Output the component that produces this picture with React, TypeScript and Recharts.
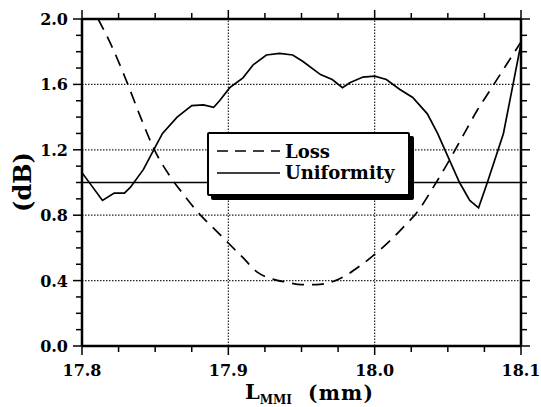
import React from 'react';
import { LineChart, Line, XAxis, YAxis, ReferenceLine } from 'recharts';

// length axis (mm)
const xTicks = [17.8, 17.825, 17.85, 17.875, 17.9, 17.925, 17.95, 17.975, 18.0, 18.025, 18.05, 18.075, 18.1];
const xMajor = [17.8, 17.9, 18.0, 18.1];
const yTicks = [0, 0.1, 0.2, 0.3, 0.4, 0.5, 0.6, 0.7, 0.8, 0.9, 1.0, 1.1, 1.2, 1.3, 1.4, 1.5, 1.6, 1.7, 1.8, 1.9, 2.0];
const yMajor = [0, 0.4, 0.8, 1.2, 1.6, 2.0];
const xGrid = [17.9, 18.0];
const yGrid = [0.4, 0.8, 1.2, 1.6];

const lossLength = [17.811, 17.82, 17.83, 17.84, 17.85, 17.86, 17.87, 17.88, 17.89, 17.9, 17.91, 17.92, 17.93, 17.94, 17.95, 17.96, 17.97, 17.98, 17.99, 18.0, 18.01, 18.02, 18.03, 18.04, 18.05, 18.06, 18.07, 18.08, 18.09, 18.1];
const lossDb = [2.0, 1.84, 1.63, 1.4, 1.19, 1.04, 0.92, 0.81, 0.72, 0.63, 0.54, 0.45, 0.41, 0.39, 0.375, 0.375, 0.39, 0.43, 0.49, 0.56, 0.64, 0.73, 0.83, 0.97, 1.12, 1.28, 1.44, 1.58, 1.72, 1.86];

const uniLength = [17.8, 17.814, 17.822, 17.829, 17.833, 17.842, 17.849, 17.855, 17.865, 17.875, 17.883, 17.89, 17.894, 17.901, 17.91, 17.917, 17.926, 17.935, 17.944, 17.951, 17.963, 17.971, 17.978, 17.983, 17.992, 18.0, 18.008, 18.017, 18.026, 18.036, 18.043, 18.049, 18.058, 18.065, 18.071, 18.077, 18.088, 18.1];
const uniDb = [1.06, 0.89, 0.935, 0.935, 0.97, 1.08, 1.2, 1.3, 1.4, 1.47, 1.475, 1.46, 1.5, 1.58, 1.64, 1.72, 1.78, 1.79, 1.78, 1.74, 1.66, 1.63, 1.58, 1.61, 1.645, 1.65, 1.63, 1.57, 1.52, 1.42, 1.3, 1.18, 1.0, 0.89, 0.845, 1.0, 1.3, 1.85];

const lossData = lossLength.map((x, i) => ({ x, y: lossDb[i] }));
const uniData = uniLength.map((x, i) => ({ x, y: uniDb[i] }));

const FONT = '"DejaVu Serif", serif';
const isMajor = (list: number[], v: number) => list.some((m) => Math.abs(m - v) < 1e-6);

const BottomTick = (props: any) => {
  const { x, y, payload } = props;
  const major = isMajor(xMajor, payload.value);
  return (
    <g>
      <line x1={x} x2={x} y1={y} y2={y + (major ? 9 : 6)} stroke="#000" strokeWidth={1.5} />
      {major && (
        <text x={x} y={y + 30} textAnchor="middle" fontFamily={FONT} fontWeight="bold" fontSize={16} fill="#000">
          {payload.value.toFixed(1)}
        </text>
      )}
    </g>
  );
};

const TopTick = (props: any) => {
  const { x, y, payload } = props;
  const major = isMajor(xMajor, payload.value);
  return <line x1={x} x2={x} y1={y} y2={y - (major ? 9 : 6)} stroke="#000" strokeWidth={1.5} />;
};

const LeftTick = (props: any) => {
  const { x, y, payload } = props;
  const major = isMajor(yMajor, payload.value);
  return (
    <g>
      <line x1={x} x2={x - (major ? 9 : 6)} y1={y} y2={y} stroke="#000" strokeWidth={1.5} />
      {major && (
        <text x={x - 14} y={y + 6} textAnchor="end" fontFamily={FONT} fontWeight="bold" fontSize={16} fill="#000">
          {payload.value.toFixed(1)}
        </text>
      )}
    </g>
  );
};

const RightTick = (props: any) => {
  const { x, y, payload } = props;
  const major = isMajor(yMajor, payload.value);
  return <line x1={x} x2={x + (major ? 9 : 6)} y1={y} y2={y} stroke="#000" strokeWidth={1.5} />;
};

const XLabel = () => (
  <text x={245} y={399} fontFamily={FONT} fontWeight="bold" fill="#000">
    <tspan fontSize={21}>L</tspan>
    <tspan fontSize={12} dy={5}>MMI</tspan>
    <tspan fontSize={20} x={308} dy={-4} letterSpacing={1.2}>(mm)</tspan>
  </text>
);

const YLabel = () => (
  <text x={0} y={0} transform="translate(31,182) rotate(-90)" textAnchor="middle" fontFamily={FONT} fontWeight="bold" fontSize={24} fill="#000">
    (dB)
  </text>
);

const LegendBox = () => (
  <div
    style={{
      position: 'absolute',
      left: 207,
      top: 132,
      width: 199,
      height: 60,
      border: '2px solid #000',
      boxShadow: '4px 4px 0 #000',
      borderRadius: 2,
      background: '#fff',
    }}
  >
    <svg width={199} height={60} style={{ display: 'block' }}>
      <line x1={8} x2={71} y1={17} y2={17} stroke="#000" strokeWidth={1.6} strokeDasharray="11 7" />
      <text x={76} y={24} fontFamily={FONT} fontWeight="bold" fontSize={18} fill="#000">Loss</text>
      <line x1={8} x2={71} y1={39} y2={39} stroke="#000" strokeWidth={1.6} />
      <text x={76} y={45} fontFamily={FONT} fontWeight="bold" fontSize={18} fill="#000">Uniformity</text>
    </svg>
  </div>
);

export default function App() {
  return (
    <div style={{ position: 'absolute', left: 0, top: 0, width: 541, height: 407, background: '#fff' }}>
      <LineChart width={541} height={407} margin={{ top: 9, right: 10, bottom: 31, left: 22 }}>
        <XAxis
          xAxisId="b"
          type="number"
          dataKey="x"
          domain={[17.8, 18.1]}
          ticks={xTicks}
          interval={0}
          allowDataOverflow
          height={30}
          tickSize={0}
          tickMargin={0}
          tickLine={false}
          axisLine={{ stroke: '#000', strokeWidth: 2.5 }}
          tick={<BottomTick />}
          label={<XLabel />}
        />
        <XAxis
          xAxisId="t"
          orientation="top"
          type="number"
          dataKey="x"
          domain={[17.8, 18.1]}
          ticks={xTicks}
          interval={0}
          allowDataOverflow
          height={10}
          tickSize={0}
          tickMargin={0}
          tickLine={false}
          axisLine={{ stroke: '#000', strokeWidth: 2.5 }}
          tick={<TopTick />}
        />
        <YAxis
          yAxisId="l"
          type="number"
          domain={[0, 2]}
          ticks={yTicks}
          interval={0}
          allowDataOverflow
          width={60}
          tickSize={0}
          tickMargin={0}
          tickLine={false}
          axisLine={{ stroke: '#000', strokeWidth: 2.5 }}
          tick={<LeftTick />}
          label={<YLabel />}
        />
        <YAxis
          yAxisId="r"
          orientation="right"
          type="number"
          domain={[0, 2]}
          ticks={yTicks}
          interval={0}
          allowDataOverflow
          width={10}
          tickSize={0}
          tickMargin={0}
          tickLine={false}
          axisLine={{ stroke: '#000', strokeWidth: 2.5 }}
          tick={<RightTick />}
        />
        {yGrid.map((v) => (
          <ReferenceLine key={'h' + v} xAxisId="b" yAxisId="l" y={v} stroke="#222" strokeWidth={1.2} strokeDasharray="1.5 1.5" />
        ))}
        {xGrid.map((v) => (
          <ReferenceLine key={'v' + v} xAxisId="b" yAxisId="l" x={v} stroke="#222" strokeWidth={1.2} strokeDasharray="1.5 1.5" />
        ))}
        <ReferenceLine xAxisId="b" yAxisId="l" y={1.0} stroke="#000" strokeWidth={1.5} />
        <Line
          xAxisId="b"
          yAxisId="l"
          data={lossData}
          dataKey="y"
          type="monotone"
          stroke="#000"
          strokeWidth={1.7}
          strokeDasharray="12 8"
          dot={false}
          isAnimationActive={false}
        />
        <Line
          xAxisId="b"
          yAxisId="l"
          data={uniData}
          dataKey="y"
          type="linear"
          stroke="#000"
          strokeWidth={1.7}
          dot={false}
          isAnimationActive={false}
        />
      </LineChart>
      <LegendBox />
    </div>
  );
}
